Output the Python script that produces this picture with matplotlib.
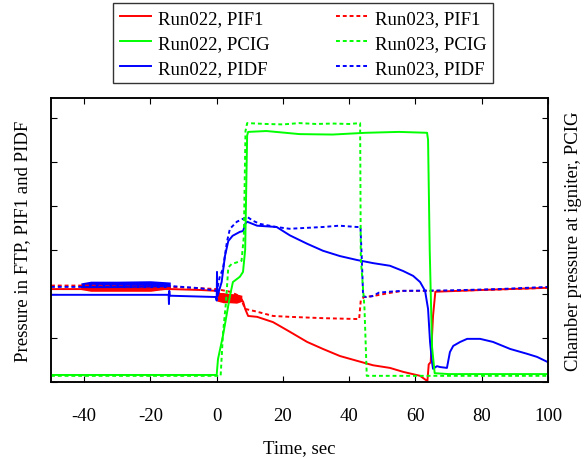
import matplotlib
matplotlib.use('Agg')
import matplotlib.pyplot as plt
import numpy as np

plt.rcParams['font.family'] = ['Liberation Serif', 'DejaVu Serif']
plt.rcParams['font.size'] = 13.5
plt.rcParams['axes.unicode_minus'] = False

# Run022, PIF1
t_pif1_22 = [-50, -41, -14, -5, 0, 1, 7, 8, 8.6, 9.5, 12.2, 17, 19.1, 22.1, 27.3, 32.1, 37.2,
             42.4, 47.2, 52.3, 56.3, 61.4, 63.6, 64.0, 64.6, 65.3, 66.0, 80, 100]
v_pif1_22 = [2.11, 2.11, 2.11, 2.09, 2.07, 2.0, 1.93, 1.82, 1.66, 1.5, 1.48, 1.36, 1.27, 1.14, 0.91,
             0.75, 0.59, 0.48, 0.38, 0.32, 0.23, 0.14, 0.02, 0.40, 0.45, 1.5, 2.05, 2.09, 2.14]
# шумовая полоса PIF1 (Run022) после зажигания
band_t_pif1_22 = [0, 2, 4, 6, 7.6]
band_lo_pif1_22 = [1.84, 1.80, 1.80, 1.79, 1.83]
band_hi_pif1_22 = [2.03, 2.03, 2.01, 2.00, 1.97]

# Run022, PCIG
t_pcig_22 = [-50, 0, 0.4, 1.9, 4.0, 4.9, 7.0, 7.95, 8.6, 9.2, 9.5, 15, 25, 35, 45, 55, 63.5,
             63.8, 64.3, 65.0, 65.8, 70, 100]
v_pcig_22 = [0.16, 0.16, 0.52, 1.05, 1.95, 2.27, 2.39, 2.5, 3.0, 5.6, 5.68, 5.70, 5.63, 5.62,
             5.66, 5.68, 5.66, 5.5, 3.0, 0.8, 0.2, 0.18, 0.18]

# Run022, PIDF
t_pidf_22 = [-50, -14.5, -14.4, -14.3, -14.2, -0.2, 0.0, 0.1, 0.25, 1.5, 2.5, 3.5, 4.8, 7.0,
             8.0, 8.6, 9.2, 12.2, 18.1, 22.1, 27.3, 32.1, 37.2, 42.4, 47.2, 52.3, 56.3, 59.3,
             61.4, 62.9, 63.8, 64.4, 65.0, 65.3, 66.5, 67.4, 69.5, 70.4, 71.4, 73.5, 75.6,
             79.5, 83.4, 88.6, 93.7, 96.7, 100]
v_pidf_22 = [1.98, 1.98, 1.77, 2.07, 1.96, 1.93, 1.85, 2.50, 1.95, 2.27, 2.86, 3.2, 3.32, 3.41,
             3.43, 3.59, 3.64, 3.55, 3.52, 3.33, 3.14, 2.98, 2.86, 2.77, 2.70, 2.64, 2.52, 2.41,
             2.27, 2.07, 1.66, 0.91, 0.45, 0.30, 0.36, 0.34, 0.32, 0.68, 0.82, 0.91, 0.98,
             0.98, 0.91, 0.75, 0.64, 0.57, 0.45]

# Run023, PIF1
t_pif1_23 = [-50, -41, -14, -5, 0, 4, 7, 8.6, 12, 17, 22, 32, 42.5, 43.0, 43.5, 44.5, 47, 52,
             56, 70, 85, 100]
v_pif1_23 = [2.19, 2.19, 2.16, 2.13, 2.11, 2.05, 1.95, 1.66, 1.60, 1.50, 1.48, 1.45, 1.43, 1.43,
             1.86, 1.93, 1.95, 2.02, 2.07, 2.07, 2.10, 2.14]
band_t_pif1_23 = [-41, -38, -30, -20, -14]
band_lo_pif1_23 = [2.10, 2.06, 2.06, 2.06, 2.12]
band_hi_pif1_23 = [2.20, 2.20, 2.21, 2.20, 2.18]

# Run023, PCIG
t_pcig_23 = [-50, 1.2, 1.9, 2.8, 3.5, 4.5, 7.5, 8.2, 8.7, 9.2, 15, 20, 25, 30, 35, 40, 43.3,
             43.5, 44.6, 45.3, 60, 100]
v_pcig_23 = [0.14, 0.14, 1.1, 1.8, 2.6, 2.68, 2.75, 3.3, 5.7, 5.88, 5.86, 5.85, 5.88, 5.86,
             5.87, 5.86, 5.88, 2.8, 1.7, 0.14, 0.14, 0.14]

# Run023, PIDF
t_pidf_23 = [-50, -41, -14, -5, 0, 0.4, 1.0, 1.9, 3.1, 4.0, 6.1, 9.2, 11.0, 13.1, 18, 22, 32,
             37, 42.4, 43.4, 43.9, 44.2, 45.2, 47, 49, 52, 56, 70, 85, 100]
v_pidf_23 = [2.16, 2.16, 2.18, 2.13, 2.07, 2.2, 2.41, 2.57, 3.18, 3.48, 3.64, 3.75, 3.66, 3.59,
             3.52, 3.48, 3.52, 3.55, 3.52, 3.52, 2.6, 1.95, 1.93, 1.95, 2.03, 2.05, 2.07,
             2.08, 2.11, 2.16]
band_t_pidf_23 = [-41, -38, -30, -20, -14]
band_lo_pidf_23 = [2.13, 2.12, 2.13, 2.12, 2.15]
band_hi_pidf_23 = [2.25, 2.29, 2.29, 2.30, 2.27]

x_ticks = [-40, -20, 0, 20, 40, 60, 80, 100]

red = '#ff0000'
green = '#00ff00'
blue = '#0000ff'
dots = (0, (2, 1.5))
lw = 1.4

fig = plt.figure(figsize=(5.84, 4.60), dpi=100)
ax = fig.add_axes([51 / 584, 77 / 460, 497 / 584, 284 / 460])
ax2 = ax.twinx()

# полосы шума
ax.fill_between(band_t_pif1_23, band_lo_pif1_23, band_hi_pif1_23, color=red, lw=0)
ax.fill_between(band_t_pidf_23, band_lo_pidf_23, band_hi_pidf_23, color=blue, lw=0)
ax.fill_between(band_t_pif1_22, band_lo_pif1_22, band_hi_pif1_22, color=red, lw=0)

h1, = ax.plot(t_pif1_22, v_pif1_22, color=red, lw=lw, label='Run022, PIF1')
h4, = ax.plot(t_pif1_23, v_pif1_23, color=red, lw=lw, ls=dots, label='Run023, PIF1')
h3, = ax.plot(t_pidf_22, v_pidf_22, color=blue, lw=lw, label='Run022, PIDF')
h6, = ax.plot(t_pidf_23, v_pidf_23, color=blue, lw=lw, ls=dots, label='Run023, PIDF')
h2, = ax2.plot(t_pcig_22, v_pcig_22, color=green, lw=lw, label='Run022, PCIG')
h5, = ax2.plot(t_pcig_23, v_pcig_23, color=green, lw=lw, ls=dots, label='Run023, PCIG')

ax.set_xlim(-50, 100)
ax.set_ylim(0, 6.45)
ax2.set_ylim(0, 6.45)
ax.set_xticks(x_ticks)
ax.set_yticks(range(0, 7))
ax2.set_yticks(range(0, 7))
ax.tick_params(direction='in', top=True, right=False, labelleft=False, length=4, pad=18)
ax2.tick_params(direction='in', length=4, labelright=False)

ax.set_xlabel('Time, sec', labelpad=11)
ax.set_ylabel('Pressure in FTP, PIF1 and PIDF', labelpad=14)
ax2.set_ylabel('Chamber pressure at igniter, PCIG', labelpad=12)

for a in (ax, ax2):
    for s in a.spines.values():
        s.set_linewidth(1.1)

leg = fig.legend(handles=[h1, h2, h3, h4, h5, h6], ncol=2, loc='upper left',
                 bbox_to_anchor=(113 / 584, 1 - 4 / 460), borderaxespad=0, frameon=True,
                 fancybox=False, edgecolor='black', handlelength=1.65, handletextpad=0.4,
                 columnspacing=3.55, labelspacing=0.42, borderpad=0.35)
leg.get_frame().set_linewidth(1.0)

fig.savefig('out.png', dpi=100)
